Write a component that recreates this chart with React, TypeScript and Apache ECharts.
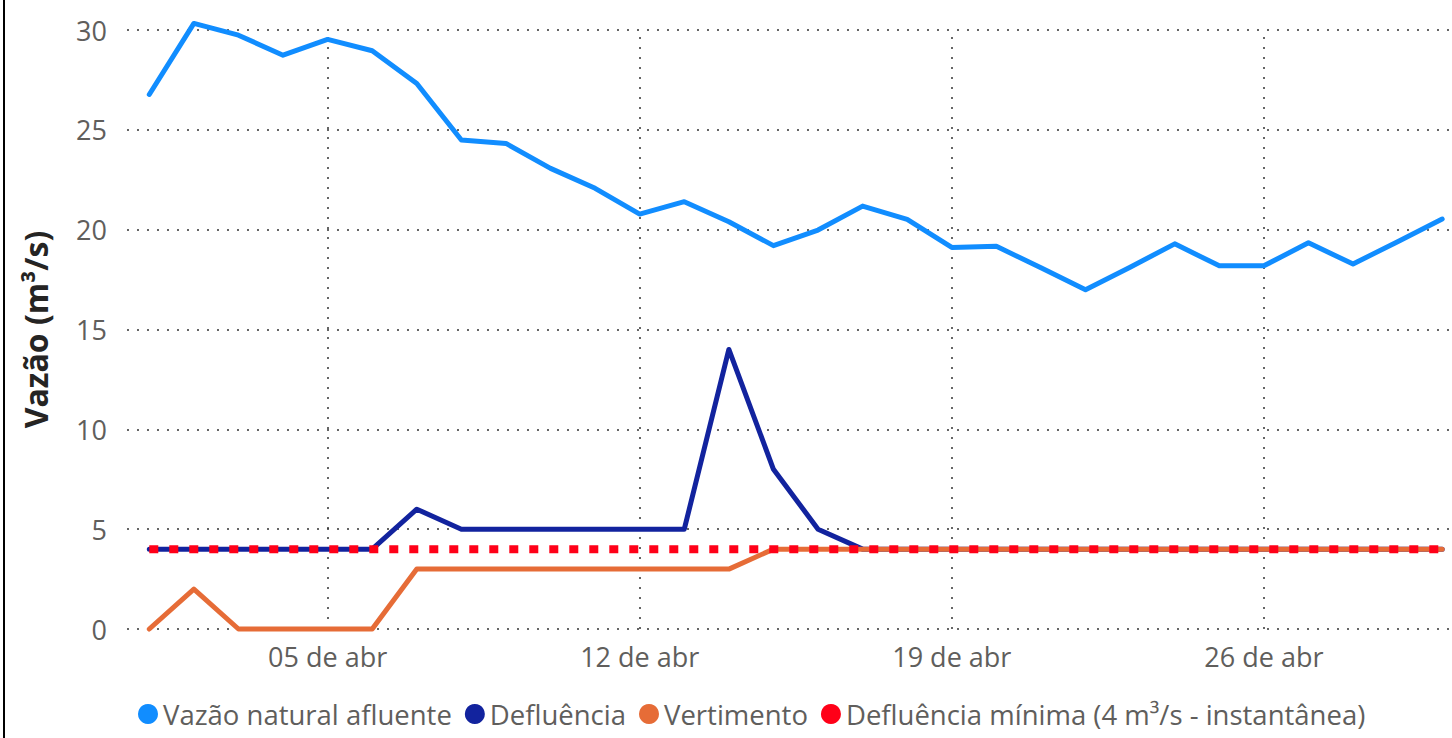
import React, { useEffect, useRef } from "react";
import * as echarts from "echarts";

// Days of April (01..30)
const days = [1,2,3,4,5,6,7,8,9,10,11,12,13,14,15,16,17,18,19,20,21,22,23,24,25,26,27,28,29,30];

const vazaoNatural = [26.77,30.33,29.74,28.74,29.53,28.96,27.32,24.49,24.32,23.07,22.07,20.78,21.4,20.4,19.2,19.98,21.18,20.52,19.11,19.17,18.09,16.99,18.12,19.29,18.19,18.19,19.34,18.28,19.4,20.53];
const defluencia = [4,4,4,4,4,4,6,5,5,5,5,5,5,14,8,5,4,4,4,4,4,4,4,4,4,4,4,4,4,4];
const vertimento = [0,2,0,0,0,0,3,3,3,3,3,3,3,3,4,4,4,4,4,4,4,4,4,4,4,4,4,4,4,4];
const defluenciaMinima = [4,4,4,4,4,4,4,4,4,4,4,4,4,4,4,4,4,4,4,4,4,4,4,4,4,4,4,4,4,4];

const xTickDays = [5, 12, 19, 26];
const monthLabel = "abr";

const seriesNames = [
  "Vazão natural afluente",
  "Defluência",
  "Vertimento",
  "Defluência mínima (4 m³/s - instantânea)",
];

const pair = (vals: number[]) => days.map((d, i) => [d, vals[i]]);

export default function App() {
  const ref = useRef<HTMLDivElement>(null);
  useEffect(() => {
    document.body.style.margin = "0";
    if (!ref.current) return;
    const chart = echarts.init(ref.current, undefined, { renderer: "svg" });
    const font = "'Open Sans', 'Noto Sans', sans-serif";
    const gridDots = { type: [2, 8] as any, color: "#333", width: 1.5 };
    const common = {
      type: "line",
      symbol: "none",
      clip: false,
      z: 3,
      lineStyle: { width: 5, cap: "round", join: "round" },
    };
    chart.setOption({
      animation: false,
      textStyle: { fontFamily: font },
      grid: { left: 127, right: 0, top: 30, bottom: 109 },
      legend: {
        data: seriesNames,
        left: 138,
        top: 700,
        icon: "circle",
        itemWidth: 20,
        itemHeight: 20,
        itemGap: 13,
        padding: 0,
        textStyle: { fontSize: 27.5, color: "#605E5C", fontFamily: font },
      },
      xAxis: {
        type: "value",
        min: 0.5,
        max: 30.22,
        axisLine: { show: false },
        axisTick: { show: false },
        splitLine: { show: false },
        axisLabel: {
          customValues: xTickDays,
          margin: 14,
          fontSize: 27,
          color: "#605E5C",
          fontFamily: font,
          formatter: (v: number) => String(v).padStart(2, "0") + " de " + monthLabel,
        },
      },
      yAxis: {
        type: "value",
        min: 0,
        max: 30,
        interval: 5,
        name: "Vazão (m³/s)",
        nameLocation: "middle",
        nameGap: 76,
        nameTextStyle: { fontSize: 32, fontWeight: "bold", color: "#252423", fontFamily: font },
        axisLine: { show: false },
        axisTick: { show: false },
        axisLabel: { margin: 20, fontSize: 27, color: "#605E5C", fontFamily: font },
        splitLine: { show: true, lineStyle: gridDots },
      },
      graphic: [
        { type: "rect", left: 3, top: 0, shape: { width: 2, height: 738 }, style: { fill: "#000" }, silent: true },
      ],
      series: [
        {
          type: "line",
          data: [],
          z: 1,
          silent: true,
          markLine: {
            z: 1,
            silent: true,
            symbol: ["none", "none"],
            label: { show: false },
            lineStyle: gridDots,
            data: xTickDays.map((d) => ({ xAxis: d })),
          },
        },
        { ...common, name: seriesNames[0], data: pair(vazaoNatural), itemStyle: { color: "#118DFF" }, lineStyle: { ...common.lineStyle, color: "#118DFF" } },
        { ...common, name: seriesNames[1], data: pair(defluencia), itemStyle: { color: "#12239E" }, lineStyle: { ...common.lineStyle, color: "#12239E" } },
        { ...common, name: seriesNames[2], data: pair(vertimento), itemStyle: { color: "#E66C37" }, lineStyle: { ...common.lineStyle, color: "#E66C37" } },
        {
          ...common,
          name: seriesNames[3],
          data: pair(defluenciaMinima),
          z: 4,
          itemStyle: { color: "#FF0018" },
          lineStyle: { width: 8, color: "#FF0018", type: [9, 11], cap: "butt" },
        },
      ],
    });
    return () => chart.dispose();
  }, []);
  return <div ref={ref} style={{ position: "absolute", left: 0, top: 0, width: 1452, height: 738 }} />;
}
